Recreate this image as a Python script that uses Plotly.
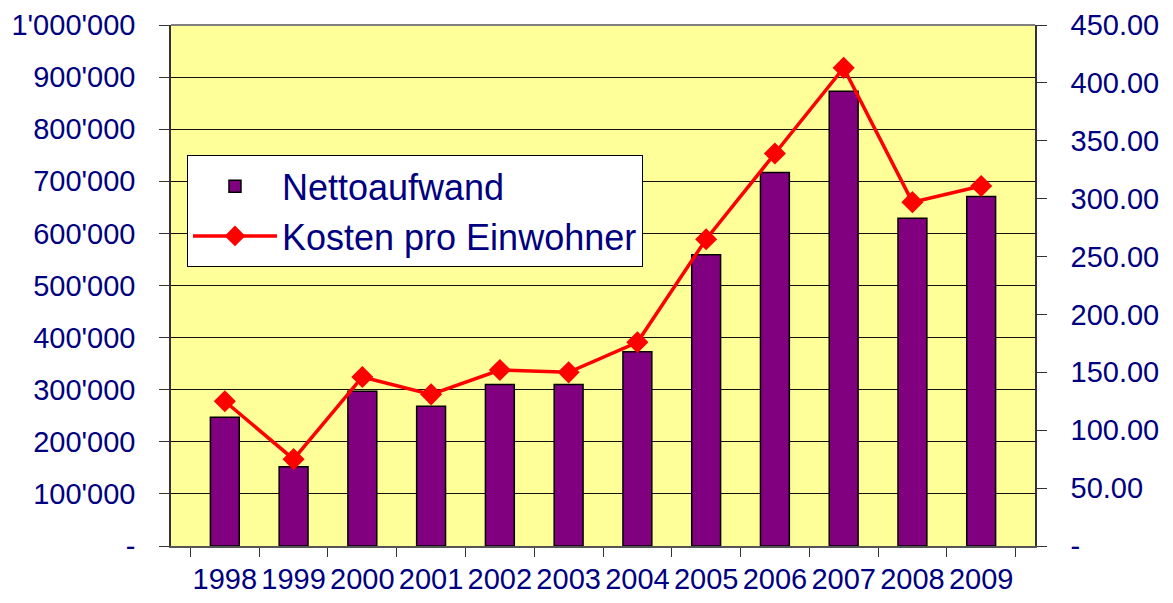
import plotly.graph_objects as go

years = ["1998", "1999", "2000", "2001", "2002", "2003", "2004", "2005", "2006", "2007", "2008", "2009"]
nettoaufwand = [247000, 152000, 297000, 268000, 310000, 310000, 373000, 559000, 717000, 873000, 629000, 671000]
kosten_pro_einwohner = [125, 75, 146, 131, 152, 150, 176, 265, 339, 413, 297, 311]

left_tickvals = [0, 100000, 200000, 300000, 400000, 500000, 600000, 700000, 800000, 900000, 1000000]
left_ticktext = ["-", "100'000", "200'000", "300'000", "400'000", "500'000", "600'000",
                 "700'000", "800'000", "900'000", "1'000'000"]
right_tickvals = [0, 50, 100, 150, 200, 250, 300, 350, 400, 450]
right_ticktext = ["-", "50.00", "100.00", "150.00", "200.00", "250.00", "300.00", "350.00", "400.00", "450.00"]

navy = "#000080"
font_family = "Liberation Sans, Arial, sans-serif"

fig = go.Figure()
fig.add_trace(go.Bar(
    x=years, y=nettoaufwand, name="Nettoaufwand",
    marker=dict(color="#800080", line=dict(color="black", width=1.5)),
))
fig.add_trace(go.Scatter(
    x=years, y=kosten_pro_einwohner, name="Kosten pro Einwohner", yaxis="y2",
    mode="lines+markers",
    line=dict(color="#FF0000", width=3.5),
    marker=dict(symbol="diamond", size=17, color="#FF0000"),
))

fig.update_layout(
    width=1173, height=603,
    margin=dict(l=163, r=146, t=17, b=65),
    paper_bgcolor="white",
    plot_bgcolor="#FFFF99",
    bargap=0.58,
    font=dict(family=font_family, color=navy, size=29),
    showlegend=True,
    legend=dict(
        x=0.0185, y=0.75, xanchor="left", yanchor="top",
        bgcolor="white", bordercolor="black", borderwidth=1,
        font=dict(size=36, color=navy, family=font_family),
        itemwidth=84, tracegroupgap=0,
    ),
    xaxis=dict(
        type="category", automargin=False, tickangle=0,
        showline=True, linecolor="#555555", linewidth=1.5,
        ticks="outside", ticklen=9, tickcolor="#333333", tickson="boundaries",
        showgrid=False,
        tickfont=dict(size=29, color=navy),
        ticklabelstandoff=6, ticklabeloverflow="allow",
    ),
    yaxis=dict(
        range=[0, 1000000], automargin=False,
        tickvals=left_tickvals, ticktext=left_ticktext,
        showline=True, linecolor="#333333", linewidth=1.5,
        ticks="outside", ticklen=10, tickcolor="#333333",
        showgrid=True, gridcolor="#111111", gridwidth=1,
        zeroline=False,
        tickfont=dict(size=29, color=navy),
        ticklabelstandoff=18, ticklabeloverflow="allow",
    ),
    yaxis2=dict(
        range=[0, 450], overlaying="y", side="right", automargin=False,
        tickvals=right_tickvals, ticktext=right_ticktext,
        showline=True, linecolor="#333333", linewidth=1.5,
        ticks="outside", ticklen=10, tickcolor="#333333",
        showgrid=False, zeroline=False,
        tickfont=dict(size=29, color=navy),
        ticklabelstandoff=18, ticklabeloverflow="allow",
    ),
    shapes=[dict(type="line", xref="paper", yref="paper", x0=0, x1=1, y0=1, y1=1,
                 line=dict(color="#808080", width=2), layer="above")],
)

fig.write_html("out.html")
